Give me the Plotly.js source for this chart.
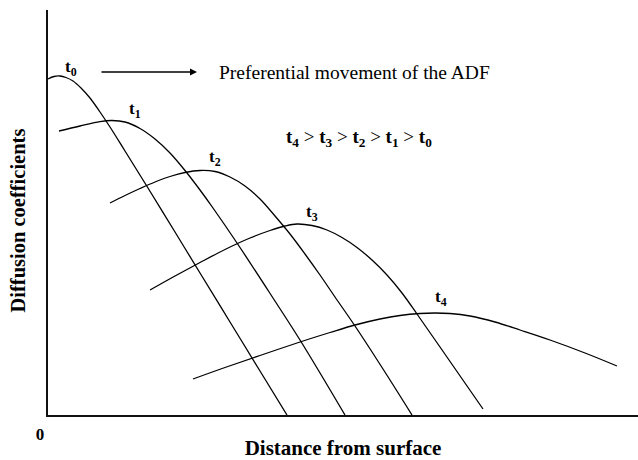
<!DOCTYPE html>
<html>
<head>
<meta charset="utf-8">
<script src="https://cdn.plot.ly/plotly-3.0.1.min.js"></script>
<style>
  html, body { margin: 0; padding: 0; background: #fff; }
  #chart { width: 638px; height: 460px; }
</style>
</head>
<body>
<div id="chart"></div>
<script>
// Diffusion-coefficient profiles against distance from the surface,
// one curve per time step t0 ... t4 (arbitrary units).
const seriesNames = ['t0', 't1', 't2', 't3', 't4'];

const distT0 = [0, 0.6, 1.2, 1.8, 2.5, 3.3, 4.2, 5.2, 6.2, 7.7, 10.0, 12.7, 15.2, 18.2, 21.2, 23.9];
const diffT0 = [33.6, 33.85, 33.9, 33.75, 33.4, 32.7, 31.7, 30.3, 28.8, 26.4, 22.7, 18.3, 14.2, 9.3, 4.4, 0];

const distT1 = [1.1, 3.2, 5.2, 6.4, 7.7, 9.2, 10.7, 12.2, 13.7, 15.2, 16.5, 18.9, 22.5, 25.2, 29.7];
const diffT1 = [28.4, 28.9, 29.34, 29.45, 29.3, 28.65, 27.6, 26.2, 24.45, 22.5, 20.7, 17.2, 11.7, 7.5, 0];

const distT2 = [6.2, 7.7, 9.2, 10.7, 12.2, 13.7, 15.2, 16.7, 18.2, 19.7, 21.2, 22.7, 24.2, 25.7, 27.2, 28.7, 30.7, 33.5, 36.4];
const diffT2 = [21.2, 21.95, 22.65, 23.3, 23.85, 24.25, 24.45, 24.35, 23.8, 22.9, 21.6, 19.9, 18.1, 16.1, 14.0, 11.8, 8.9, 4.6, 0];

const distT3 = [10.2, 12.7, 15.2, 17.7, 20.2, 22.2, 23.7, 24.9, 26.4, 27.9, 29.4, 30.9, 32.4, 33.9, 35.4, 36.9, 39.2, 43.5];
const diffT3 = [12.5, 13.9, 15.25, 16.55, 17.7, 18.45, 18.9, 19.1, 18.95, 18.5, 17.75, 16.75, 15.5, 14.0, 12.2, 10.1, 6.8, 0.6];

const distT4 = [14.5, 17.7, 21.2, 25.2, 28.2, 30.7, 33.2, 35.2, 37.2, 38.7, 40.2, 42.2, 44.7, 47.2, 50.2, 53.7, 56.9];
const diffT4 = [3.6, 4.75, 5.95, 7.3, 8.25, 9.0, 9.6, 9.95, 10.15, 10.2, 10.15, 9.9, 9.3, 8.5, 7.5, 6.2, 4.9];

// Curve labels, placed just above each curve's maximum
const labelX = [2.3, 8.7, 16.7, 26.4, 39.3];
const labelY = [34.7, 30.5, 25.7, 20.2, 11.7];

const xTickVals = [0];
const xTickText = ['0'];

const serif = 'Liberation Serif, Times New Roman, serif';

const distances = [distT0, distT1, distT2, distT3, distT4];
const diffusions = [diffT0, diffT1, diffT2, diffT3, diffT4];

const traces = seriesNames.map((name, i) => ({
  type: 'scatter',
  mode: 'lines',
  name: name,
  x: distances[i],
  y: diffusions[i],
  line: { color: '#000', width: 1.3, shape: 'spline', smoothing: 1 },
  hoverinfo: 'skip'
}));

const subLabel = n => '<b>t<sub>' + n.slice(1) + '</sub></b>';

const annotations = seriesNames.map((name, i) => ({
  x: labelX[i], y: labelY[i], xref: 'x', yref: 'y',
  text: subLabel(name), showarrow: false,
  font: { family: serif, size: 17, color: '#000' }
}));

// direction of travel of the diffusion front
annotations.push({
  x: 14.9, y: 34.3, ax: 5.2, ay: 34.3, xref: 'x', yref: 'y', axref: 'x', ayref: 'y',
  text: '', showarrow: true, arrowhead: 2, arrowsize: 1, arrowwidth: 1.4, arrowcolor: '#000'
});
annotations.push({
  x: 16.9, y: 34.3, xref: 'x', yref: 'y', xanchor: 'left',
  text: 'Preferential movement of the ADF', showarrow: false,
  font: { family: serif, size: 19.5, color: '#000' }
});
annotations.push({
  x: 31.1, y: 27.7, xref: 'x', yref: 'y',
  text: [4, 3, 2, 1, 0].map(n => subLabel('t' + n)).join(' &gt; '), showarrow: false,
  font: { family: serif, size: 19, color: '#000' }
});
// vertical axis title, set against the left edge of the plot
annotations.push({
  x: 0, y: 0.5, xref: 'paper', yref: 'paper', xshift: -31, yshift: -8,
  xanchor: 'center', yanchor: 'middle', textangle: -90,
  text: '<b>Diffusion coefficients</b>', showarrow: false,
  font: { family: serif, size: 20.5, color: '#000' }
});

const layout = {
  width: 638, height: 460,
  margin: { l: 48, r: 0, t: 10, b: 45 },
  paper_bgcolor: '#fff', plot_bgcolor: '#fff',
  showlegend: false,
  xaxis: {
    range: [0, 59], showgrid: false, zeroline: false,
    showline: true, linecolor: '#111', linewidth: 2,
    tickvals: xTickVals, ticktext: xTickText, ticks: '',
    ticklabelshift: -8, ticklabelstandoff: 3,
    tickfont: { family: serif, size: 17, color: '#000', weight: 'bold' },
    title: { text: '<b>Distance from surface</b>', font: { family: serif, size: 21, color: '#000' } }
  },
  yaxis: {
    range: [0, 40.5], showgrid: false, zeroline: false,
    showline: true, linecolor: '#111', linewidth: 2,
    tickvals: [], ticks: '', showticklabels: false
  },
  annotations: annotations
};

Plotly.newPlot('chart', traces, layout, { displayModeBar: false, staticPlot: true });
</script>
</body>
</html>
